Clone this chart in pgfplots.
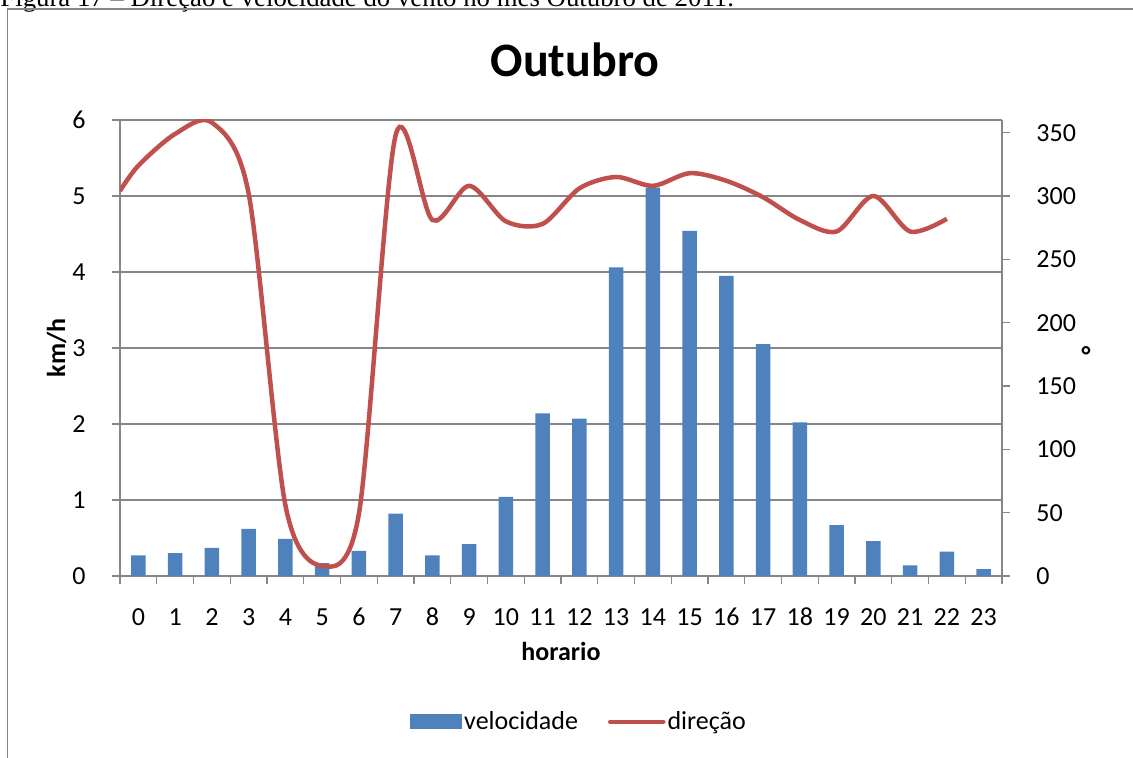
\documentclass[border=0pt]{standalone}
\usepackage{pgfplots}
\pgfplotsset{compat=1.18}
\usepackage{fontspec}
\setmainfont{Carlito}
\newfontfamily\capfont{Liberation Serif}

\definecolor{barblue}{RGB}{79,129,189}
\definecolor{linered}{RGB}{192,80,77}
\definecolor{axgray}{RGB}{134,134,134}

\pgfplotstableread{
h vel
0 0.27
1 0.30
2 0.37
3 0.62
4 0.49
5 0.17
6 0.33
7 0.82
8 0.27
9 0.42
10 1.04
11 2.14
12 2.07
13 4.06
14 5.11
15 4.54
16 3.95
17 3.05
18 2.02
19 0.67
20 0.46
21 0.14
22 0.32
23 0.09
}\veltable

\pgfplotstableread{
h dir
-0.5 304
0 324
1 349
2 358
3 302
4 56
5 8
6 49
7 348
8 281
9 308
10 280
11 278
12 306
13 315
14 308
15 318
16 312
17 299
18 281
19 272
20 300
21 272
22 282
}\dirtable

\begin{document}
\begin{tikzpicture}[font=\fontsize{13}{15}\selectfont]
\useasboundingbox (-60pt,-91pt) rectangle (506.5pt,288pt);
\clip (-60pt,-91pt) rectangle (506.5pt,288pt);

\pgfplotsset{
    every axis/.append style={
        scale only axis,
        width=441pt, height=228pt,
        xmin=-0.5, xmax=23.5,
        tick align=outside,
        major tick length=4pt,
        minor tick length=4pt,
        axis line style={draw=axgray, line width=0.6pt},
        every tick/.style={draw=axgray, line width=0.6pt},
        /pgf/number format/assume math mode=true,
        tick label style={font=\fontsize{13}{15}\selectfont},
    },
}

% left axis: velocidade
\begin{axis}[
    axis x line*=bottom,
    axis y line*=left,
    ymin=0, ymax=6,
    ytick={0,1,2,3,4,5,6},
    xtick={0,1,2,3,4,5,6,7,8,9,10,11,12,13,14,15,16,17,18,19,20,21,22,23},
    xticklabels={0,1,2,3,4,5,6,7,8,9,10,11,12,13,14,15,16,17,18,19,20,21,22,23},
    minor xtick={-0.5,0.5,...,23.5},
    major x tick style={draw=none},
    xticklabel style={anchor=base, inner sep=0pt, yshift=-21pt},
    yticklabel style={anchor=east, inner sep=0pt, xshift=-13pt},
    ymajorgrids,
    grid style={draw=axgray, line width=0.6pt},
    xlabel={\textbf{horario}},
    xlabel style={at={(axis description cs:0.5,0)}, anchor=center, yshift=-37.5pt},
    legend style={
        at={(axis description cs:0.5204,-0.32)},
        anchor=center,
        draw=none,
        legend columns=2,
        font=\fontsize{13}{15}\selectfont,
        /tikz/every even column/.append style={column sep=14pt},
        inner sep=0pt,
        nodes={inner sep=1pt},
    },
]
\addplot[ybar, bar width=7.35pt, fill=barblue, draw=none,
    legend image code/.code={\fill[barblue] (0pt,-3.75pt) rectangle (26pt,3.75pt);}]
    table[x=h, y=vel] {\veltable};
\addlegendentry{velocidade}
\addlegendimage{draw=linered, line width=2.25pt,
    legend image code/.code={\draw[linered, line width=2.25pt, line cap=round] (0.5pt,0pt) -- (27pt,0pt);}}
\addlegendentry{direção}
\end{axis}

% right axis: direção
\begin{axis}[
    axis x line=none,
    axis y line*=right,
    ymin=0, ymax=360,
    ytick={0,50,100,150,200,250,300,350},
    yticklabel style={anchor=west, inner sep=0pt, xshift=13pt},
]
\addplot[smooth, linered, line width=2.25pt] table[x=h, y=dir] {\dirtable};
\end{axis}

\node[rotate=90, font=\fontsize{13}{15}\selectfont\bfseries] at (-31.7pt,114pt) {km/h};
\node[font=\fontsize{13}{15}\selectfont\bfseries] at (483pt,110pt) {°};
\node[font=\fontsize{24}{28}\selectfont\bfseries] at (227.5pt,258pt) {Outubro};
\node[anchor=base west, inner sep=0pt, font=\capfont\fontsize{13.4}{15}\selectfont] at (-60pt,284.5pt)
    {Figura 17 – Direção e velocidade do vento no mês Outubro de 2011.};
\draw[axgray, line width=0.6pt] (-56.25pt,-91pt) -- (-56.25pt,283.5pt) -- (506.5pt,283.5pt);
\end{tikzpicture}
\end{document}
